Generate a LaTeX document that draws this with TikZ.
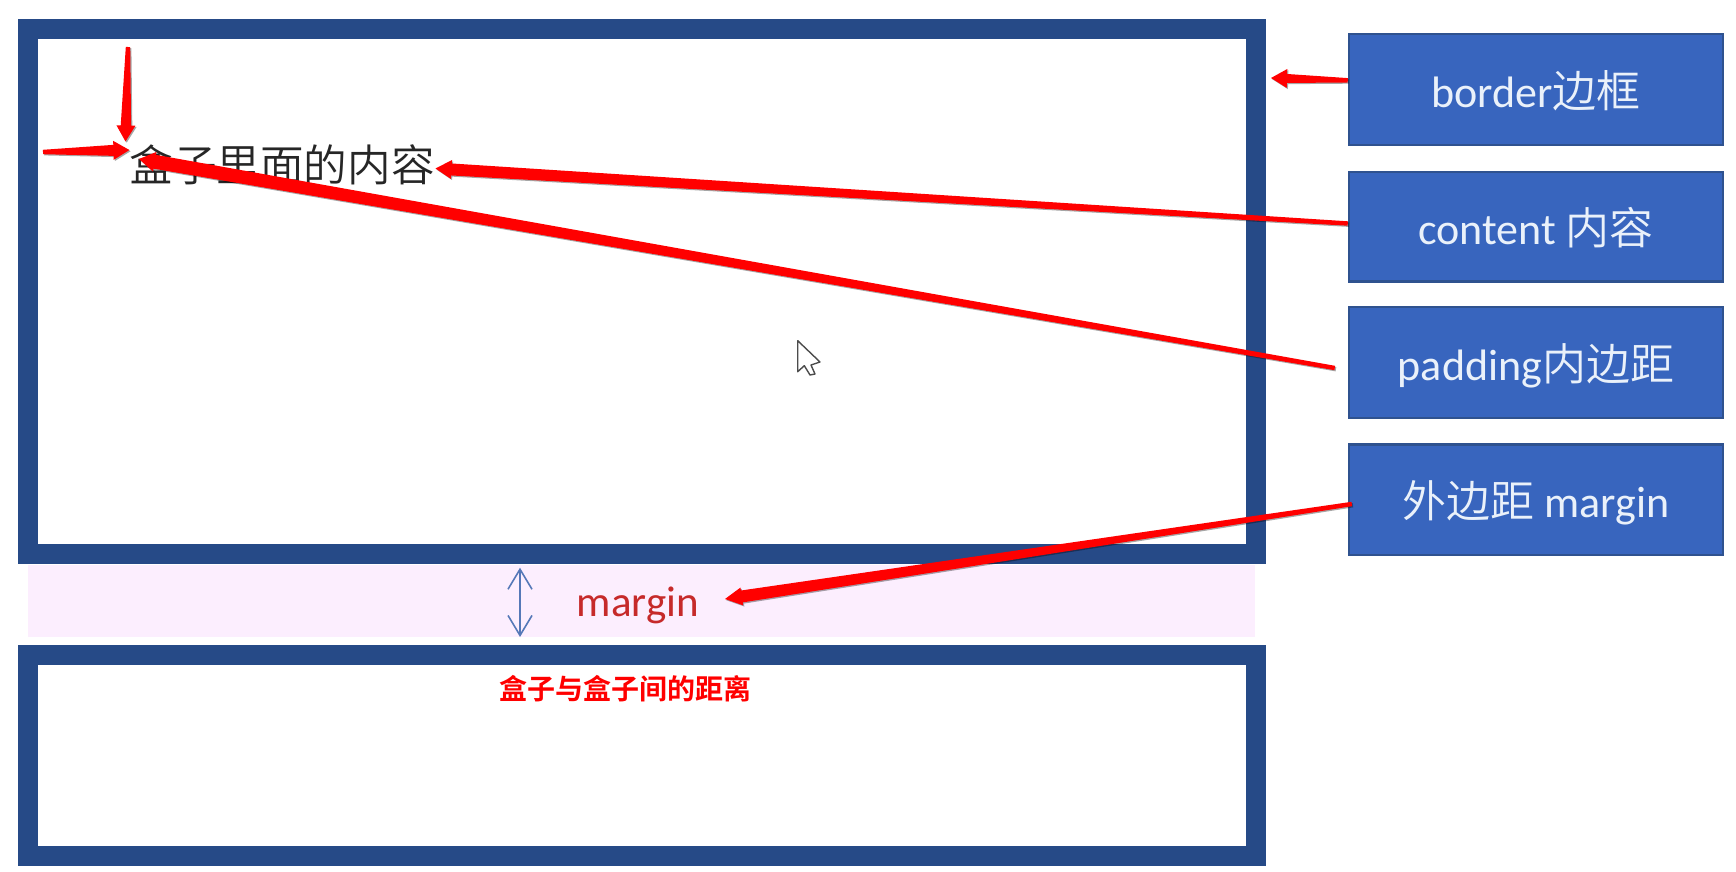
\documentclass[tikz,border=0pt]{standalone}
\usepackage{fontspec}
\setmainfont{Carlito}
\newfontfamily\cjk{Noto Sans CJK SC DemiLight}
\newfontfamily\cjkb{Noto Sans CJK SC Bold}
\usetikzlibrary{calc,arrows.meta}
\definecolor{boxblue}{HTML}{264A87}
\definecolor{sidefill}{HTML}{3865BE}
\definecolor{sideline}{HTML}{2F528F}
\definecolor{pinkband}{HTML}{FCEEFE}
\definecolor{marginred}{HTML}{C62A2A}
\definecolor{arrowblue}{HTML}{5578B8}
\definecolor{sidetext}{HTML}{EAF1FA}
\tikzset{
  outerbox/.style={draw=boxblue,line width=20pt,fill=white,rectangle,inner sep=0pt},
  sidebox/.style={draw=sideline,line width=2.5pt,fill=sidefill,rectangle,inner sep=0pt,
    minimum width=374pt,text=sidetext,font=\fontsize{44}{44}\selectfont,text height=36pt,text depth=0pt},
  redarrow/.style={fill=red,preaction={fill=black,opacity=.35,transform canvas={shift={(1.2pt,-1.2pt)}}}}
}
\newcommand\redarr[6]{%
  \coordinate (neck) at ($(#2)!#6pt!(#1)$);
  \path[redarrow]
    ($(#1)!#3pt!90:(#2)$) -- ($(neck)!#4pt!90:(#2)$) -- ($(neck)!#5pt!90:(#2)$) -- (#2)
    -- ($(neck)!#5pt!-90:(#2)$) -- ($(neck)!#4pt!-90:(#2)$) -- ($(#1)!#3pt!-90:(#2)$) -- cycle;
}
\begin{document}
\begin{tikzpicture}[x=1pt,y=-1pt]
\useasboundingbox[fill=white] (0,0) rectangle (1736,872);
% margin band
\node[fill=pinkband,inner sep=0pt,minimum width=1227pt,minimum height=72pt] (band) at (641.3,601) {};
% boxes
\node[outerbox,minimum width=1227.5pt,minimum height=524pt] (upper) at (642.2,291.5) {};
\node[outerbox,minimum width=1227.5pt,minimum height=201.5pt] (lower) at (642.2,755.3) {};
% side labels
\node[sidebox,minimum height=111pt] (bord) at (1536,89.3) {border{\cjk 边框}};
\node[sidebox,minimum height=109.5pt] (cont) at (1536,226.8) {content {\cjk 内容}};
\node[sidebox,minimum height=111pt] (padd) at (1536,362.6) {padding{\cjk 内边距}};
\node[sidebox,minimum height=110.5pt] (marg) at (1536,499.6) {{\cjk 外边距} margin};
% texts
\node[anchor=base,inner sep=0pt,text=black!85,font=\cjk\fontsize{43.6}{44}\selectfont] (content) at (282,181) {盒子里面的内容};
\node[anchor=base,inner sep=0pt,text=marginred,font=\fontsize{43}{43}\selectfont] (mtext) at (638,616) {margin};
\node[anchor=base,inner sep=0pt,text=red,font=\cjkb\fontsize{28}{28}\selectfont] (cap) at (625.5,699) {盒子与盒子间的距离};
% double arrow
\coordinate (dtop) at (520,567.7);
\coordinate (dbot) at (520,637);
\draw[arrowblue,line width=1.6pt,{Straight Barb[length=20pt,width=24pt]}-{Straight Barb[length=20pt,width=24pt]}] (dtop) -- (dbot);
% cursor
\draw[fill=white,draw=black!70,line width=1.4pt,line join=round]
  (797.7,340.7) -- (797.7,371.7) -- (804.3,365.7) -- (810,375) -- (815,374) -- (811,365) -- (820,362) -- cycle;
% red arrows
\coordinate (ta) at (128,47);   \coordinate (tb) at (125.5,141.5);
\coordinate (la) at (43,152);   \coordinate (lb) at (129.4,150);
\coordinate (bb) at (1271,78);
\coordinate (cb) at (435.5,168.5);
\coordinate (pa) at ([xshift=-13pt,yshift=-5.4pt]padd.west);
\coordinate (pb) at (139,159);
\coordinate (mb) at (725,599);
\redarr{ta}{tb}{2.2}{5.2}{9.5}{16}
\redarr{la}{lb}{2.2}{5.5}{9.5}{16}
\redarr{[yshift=9pt]bord.west}{bb}{2.2}{4.5}{9.5}{16}
\redarr{[yshift=3.3pt]cont.west}{cb}{2.2}{6}{9.5}{16}
\redarr{pa}{pb}{2.2}{7}{10}{16}
\redarr{[xshift=4pt,yshift=-4.4pt]marg.west}{mb}{2.2}{6}{9}{17}
\end{tikzpicture}
\end{document}
